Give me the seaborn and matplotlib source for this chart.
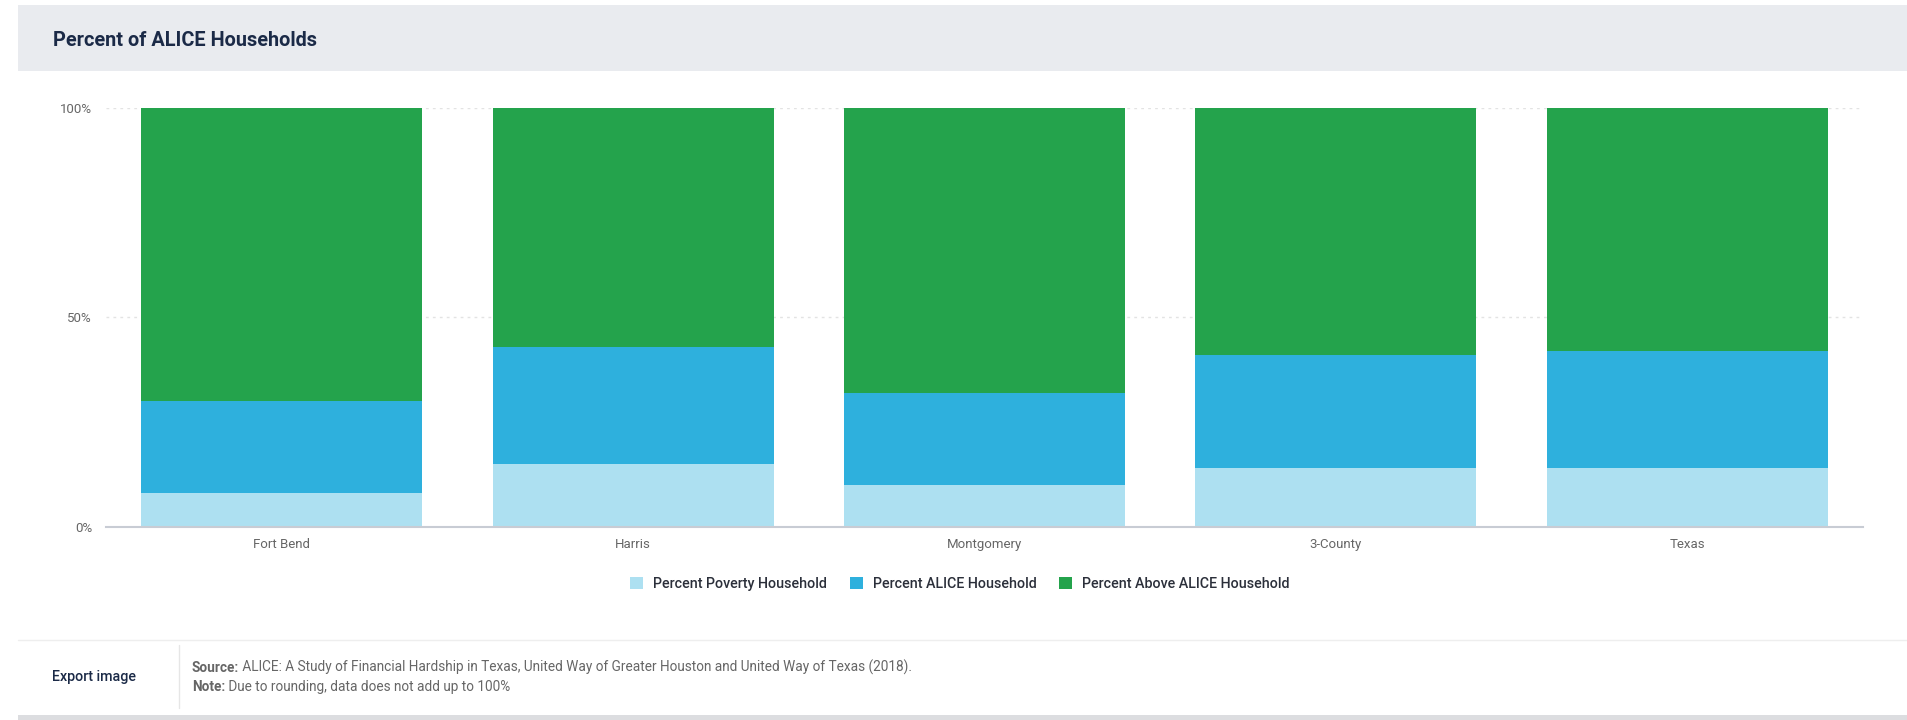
import matplotlib
matplotlib.use("Agg")
import matplotlib.pyplot as plt
import matplotlib.patches as mpatches
import seaborn as sns
import pandas as pd
import numpy as np

categories = ["Fort Bend", "Harris", "Montgomery", "3-County", "Texas"]
poverty = [8, 15, 10, 14, 14]
alice = [22, 28, 22, 27, 28]
above = [70, 57, 68, 59, 58]
series_names = ["Percent Poverty Household", "Percent ALICE Household", "Percent Above ALICE Household"]
colors = ["#ade0f1", "#2eb0dd", "#24a34c"]
y_ticks = [0, 50, 100]
y_tick_labels = ["0%", "50%", "100%"]

sns.set_theme(style="white")
plt.rcParams['font.family'] = ['Roboto', 'DejaVu Sans']

# percent stacking (normalize to 100)
tot = np.array(poverty) + np.array(alice) + np.array(above)
p = np.array(poverty) / tot * 100
a = np.array(alice) / tot * 100
b = np.array(above) / tot * 100
df = pd.DataFrame({
    "cat": categories,
    "top": p + a + b,
    "mid": p + a,
    "low": p,
})

W, H = 1907, 720
fig = plt.figure(figsize=(W / 100, H / 100), dpi=100)
fig.patch.set_facecolor("white")

# header band
fig.patches.append(mpatches.Rectangle((18 / W, 1 - 71 / H), 1 - 18 / W, 66 / H,
                                      transform=fig.transFigure, facecolor="#e9ebef",
                                      edgecolor="none", zorder=0))
fig.text(53 / W, 1 - 40 / H, "Percent of ALICE Households", fontsize=14.3,
         fontweight="bold", color="#1b2a47", va="center", ha="left")

ax = fig.add_axes([106 / W, 193 / H, 1757 / W, 419 / H])
ax.set_facecolor("none")
sns.barplot(data=df, x="cat", y="top", color=colors[2], ax=ax, width=0.8,
            saturation=1, linewidth=0)
sns.barplot(data=df, x="cat", y="mid", color=colors[1], ax=ax, width=0.8,
            saturation=1, linewidth=0)
sns.barplot(data=df, x="cat", y="low", color=colors[0], ax=ax, width=0.8,
            saturation=1, linewidth=0)
ax.set_xlim(-0.5, len(categories) - 0.5)
ax.set_ylim(0, 100)
ax.set_xlabel("")
ax.set_ylabel("")
ax.set_yticks(y_ticks)
ax.set_yticklabels(y_tick_labels)
for s in ["top", "right", "left"]:
    ax.spines[s].set_visible(False)
ax.spines["bottom"].set_color("#c8ccd4")
ax.spines["bottom"].set_linewidth(1.5)
ax.tick_params(axis="both", length=0, labelsize=9.5, labelcolor="#666666")
ax.tick_params(axis="x", pad=8)
ax.tick_params(axis="y", pad=10)
for yv in [50, 100]:
    ax.axhline(yv, color="#e3e3e3", linestyle=(0, (2, 3)), linewidth=1, zorder=0)

handles = [mpatches.Patch(facecolor=c, edgecolor="none", label=n) for c, n in zip(colors, series_names)]
fig.legend(handles=handles, loc="center", bbox_to_anchor=(960 / W, 1 - 584 / H), ncol=3,
           frameon=False, handlelength=0.9, handleheight=0.9,
           columnspacing=1.6, handletextpad=0.7,
           prop={"family": ["Roboto", "DejaVu Sans"], "size": 10.3, "weight": "medium"})
for t in fig.legends[0].get_texts():
    t.set_color("#2b2f3a")

# footer
fig.add_artist(plt.Line2D([18 / W, 1], [1 - 640 / H, 1 - 640 / H], transform=fig.transFigure,
                          color="#eeeeee", linewidth=1))
fig.add_artist(plt.Line2D([179 / W, 179 / W], [1 - 645 / H, 1 - 708 / H], transform=fig.transFigure,
                          color="#e6e6e6", linewidth=1))
fig.patches.append(mpatches.Rectangle((18 / W, 0), 1 - 18 / W, 5 / H,
                                      transform=fig.transFigure, facecolor="#dcdde0",
                                      edgecolor="none", zorder=0))
fig.text(52 / W, 1 - 677 / H, "Export image", fontsize=10.3, fontweight="medium",
         color="#1b2a47", va="center", ha="left")

def label_pair(y, bold, rest):
    t1 = fig.text(192 / W, 1 - y / H, bold, fontsize=9.8, fontweight="bold",
                  color="#666666", va="baseline", ha="left")
    ann = fig.add_artist(matplotlib.text.Annotation(
        " " + rest, xy=(1, 0), xycoords=t1, fontsize=9.8, color="#666666",
        va="bottom", ha="left", annotation_clip=False))
    return t1, ann

label_pair(672, "Source:",
           "ALICE: A Study of Financial Hardship in Texas, United Way of Greater Houston and United Way of Texas (2018).")
label_pair(691, "Note:", "Due to rounding, data does not add up to 100%")

fig.savefig("out.png", dpi=100, facecolor="white")
